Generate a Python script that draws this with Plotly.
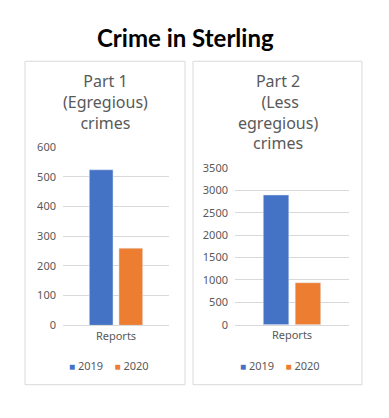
import plotly.graph_objects as go

# page is 389x418; body has 8px default margin, so the figure is 16px smaller
PAGE_W, PAGE_H = 389, 418
OFF = 8
W, H = PAGE_W - 2 * OFF, PAGE_H - 2 * OFF

category = ["Reports"]
years = ["2019", "2020"]
part1_values = [524, 260]
part2_values = [2900, 940]
colors = ["#4472C4", "#ED7D31"]
part1_ticks = [0, 100, 200, 300, 400, 500, 600]
part2_ticks = [0, 500, 1000, 1500, 2000, 2500, 3000, 3500]


def px(x):
    return (x - OFF) / W


def py(y):
    return 1 - (y - OFF) / H


fig = go.Figure()
for i, yr in enumerate(years):
    fig.add_trace(go.Bar(x=category, y=[part1_values[i]], name=yr, marker_color=colors[i],
                         xaxis="x", yaxis="y", showlegend=False))
for i, yr in enumerate(years):
    fig.add_trace(go.Bar(x=category, y=[part2_values[i]], name=yr, marker_color=colors[i],
                         xaxis="x2", yaxis="y2", showlegend=False))

grey = "#595959"
tickfont = dict(family="Noto Sans", size=11, color=grey)
axis_common = dict(showgrid=True, gridcolor="#d9d9d9", gridwidth=1, zeroline=False,
                   showline=False, ticks="", tickfont=tickfont, ticklabelstandoff=6)

legend_text = "&nbsp;&nbsp;&nbsp;&nbsp;".join(
    f"<span style='color:{c}; font-size:10px'>■</span> {yr}" for yr, c in zip(years, colors)
)

fig.update_layout(
    width=W, height=H, margin=dict(l=0, r=0, t=0, b=0),
    paper_bgcolor="white", plot_bgcolor="white",
    barmode="group", bargap=0.44, bargroupgap=0.2,
    xaxis=dict(domain=[px(63), px(169)], showgrid=False, zeroline=False, showline=True,
               linecolor="#d9d9d9", ticks="", tickfont=tickfont, anchor="y"),
    yaxis=dict(domain=[py(329.3), py(144.3)], range=[0, 600], tickvals=part1_ticks,
               anchor="x", **axis_common),
    xaxis2=dict(domain=[px(235), px(349)], showgrid=False, zeroline=False, showline=True,
                linecolor="#d9d9d9", ticks="", tickfont=tickfont, anchor="y2"),
    yaxis2=dict(domain=[py(328.7), py(166)], range=[0, 3500], tickvals=part2_ticks,
                anchor="x2", **axis_common),
    shapes=[
        dict(type="rect", xref="paper", yref="paper", x0=px(25), x1=px(185), y0=py(391), y1=py(55),
             line=dict(color="#d9d9d9", width=1)),
        dict(type="rect", xref="paper", yref="paper", x0=px(193), x1=px(362), y0=py(391), y1=py(55),
             line=dict(color="#d9d9d9", width=1)),
    ],
    annotations=[
        dict(text="<b>Crime in Sterling</b>", x=px(185), y=py(30), xref="paper", yref="paper",
             xanchor="center", yanchor="middle", showarrow=False,
             font=dict(family="Lato", size=24, color="black", weight=900)),
        dict(text="Part 1<br>(Egregious)<br>crimes", x=px(105), y=py(97), xref="paper", yref="paper",
             xanchor="center", yanchor="middle", showarrow=False,
             font=dict(family="Noto Sans", size=16, color=grey)),
        dict(text="Part 2<br> (Less<br>egregious)<br>crimes", x=px(277.5), y=py(108), xref="paper",
             yref="paper", xanchor="center", yanchor="middle", showarrow=False,
             font=dict(family="Noto Sans", size=16, color=grey)),
        dict(text=legend_text, x=px(108.5), y=py(371), xref="paper", yref="paper",
             xanchor="center", yanchor="middle", showarrow=False,
             font=dict(family="Noto Sans", size=11, color=grey)),
        dict(text=legend_text, x=px(280), y=py(371), xref="paper", yref="paper",
             xanchor="center", yanchor="middle", showarrow=False,
             font=dict(family="Noto Sans", size=11, color=grey)),
    ],
)

fig.write_html("out.html")
